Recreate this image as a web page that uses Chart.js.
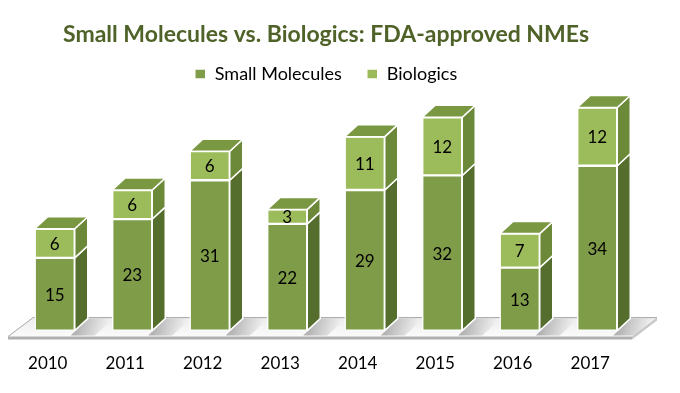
<!DOCTYPE html>
<html>
<head>
<meta charset="utf-8">
<script src="https://cdn.jsdelivr.net/npm/chart.js@4.4.1/dist/chart.umd.min.js"></script>
<style>
  html, body { margin: 0; padding: 0; background: #fff; }
</style>
</head>
<body>
<canvas id="chart" width="680" height="393"></canvas>
<script>
// data
const years = ['2010', '2011', '2012', '2013', '2014', '2015', '2016', '2017'];
const smallMolecules = [15, 23, 31, 22, 29, 32, 13, 34];
const biologics = [6, 6, 6, 3, 11, 12, 7, 12];

// 3D look: depth offset of the side / top faces
const DX = 13, DY = 12;
const faceColors = [
  { side: '#556E2D', top: '#6A8637' },   // small molecules
  { side: '#6B8939', top: '#7A9842' }    // biologics
];

function poly(ctx, pts, fill, stroke) {
  ctx.beginPath();
  ctx.moveTo(pts[0][0], pts[0][1]);
  for (let i = 1; i < pts.length; i++) ctx.lineTo(pts[i][0], pts[i][1]);
  ctx.closePath();
  ctx.fillStyle = fill;
  ctx.fill();
  if (stroke) {
    ctx.strokeStyle = stroke;
    ctx.lineWidth = 1.5;
    ctx.stroke();
  }
}

const bars3d = {
  id: 'bars3d',
  beforeDatasetsDraw(chart) {
    // floor slab under the bars
    const ctx = chart.ctx;
    const area = chart.chartArea;
    const base = chart.scales.y.getPixelForValue(0);
    const l = area.left, r = area.right;
    ctx.save();
    const fl = [[l - 8, base + 6], [r - 4, base + 6], [r + 21, base - 13], [l + 17, base - 13]];
    const g = ctx.createLinearGradient(0, base - 13, 0, base + 6);
    g.addColorStop(0, '#ececec');
    g.addColorStop(1, '#fbfbfb');
    poly(ctx, fl, g, null);
    // soft shadows of the bars on the floor
    const meta = chart.getDatasetMeta(0);
    meta.data.forEach((bar) => {
      const p = bar.getProps(['x', 'width'], true);
      const br = p.x + p.width / 2;
      const sg = ctx.createLinearGradient(br, 0, br + 34, 0);
      sg.addColorStop(0, 'rgba(120,120,120,0.55)');
      sg.addColorStop(1, 'rgba(120,120,120,0)');
      poly(ctx, [[br - 4, base + 5], [br + DX, base - DY], [br + DX + 26, base - DY], [br + 20, base + 5]], sg, null);
    });
    // front edge of the slab
    poly(ctx, [[l - 8, base + 6], [r - 4, base + 6], [r - 4, base + 9], [l - 8, base + 9]], '#b0b0b0', null);
    poly(ctx, [[r - 4, base + 6], [r + 21, base - 13], [r + 21, base - 10], [r - 4, base + 9]], '#c8c8c8', null);
    ctx.strokeStyle = '#a6a6a6';
    ctx.lineWidth = 1;
    ctx.beginPath();
    ctx.moveTo(l - 8, base + 6);
    ctx.lineTo(l + 17, base - 13);
    ctx.lineTo(r + 21, base - 13);
    ctx.stroke();
    ctx.restore();
  },
  afterDatasetsDraw(chart) {
    const ctx = chart.ctx;
    const metas = chart.getSortedVisibleDatasetMetas();
    ctx.save();
    years.forEach((_, i) => {
      let topMost = null;
      metas.forEach((meta) => {
        const bar = meta.data[i];
        const p = bar.getProps(['x', 'y', 'base', 'width'], true);
        const l = p.x - p.width / 2, r = p.x + p.width / 2;
        const t = Math.min(p.y, p.base), b = Math.max(p.y, p.base);
        const c = faceColors[meta.index];
        poly(ctx, [[r, t], [r + DX, t - DY], [r + DX, b - DY], [r, b]], c.side, '#ffffff');
        if (!topMost || t < topMost.t) topMost = { l, r, t, c };
      });
      if (topMost) {
        const { l, r, t, c } = topMost;
        poly(ctx, [[l, t], [l + DX, t - DY], [r + DX, t - DY], [r, t]], c.top, '#ffffff');
      }
    });
    // value labels in the middle of each front face
    ctx.fillStyle = '#000';
    ctx.font = '17px Lato';
    ctx.textAlign = 'center';
    ctx.textBaseline = 'middle';
    metas.forEach((meta) => {
      const values = chart.data.datasets[meta.index].data;
      meta.data.forEach((bar, i) => {
        const p = bar.getProps(['x', 'y', 'base'], true);
        ctx.fillText(String(values[i]), p.x, (p.y + p.base) / 2 + 1);
      });
    });
    ctx.restore();
  }
};

new Chart(document.getElementById('chart'), {
  type: 'bar',
  data: {
    labels: years,
    datasets: [
      {
        label: 'Small Molecules',
        data: smallMolecules,
        backgroundColor: '#7F9C48',
        borderColor: '#ffffff',
        borderWidth: 1.5,
        borderSkipped: false,
        barThickness: 40
      },
      {
        label: 'Biologics',
        data: biologics,
        backgroundColor: '#9CBB5A',
        borderColor: '#ffffff',
        borderWidth: 1.5,
        borderSkipped: false,
        barThickness: 40
      }
    ]
  },
  options: {
    responsive: false,
    animation: false,
    layout: { padding: { left: 16, right: 44, top: 0, bottom: -4 } },
    plugins: {
      title: {
        display: true,
        text: 'Small Molecules vs. Biologics: FDA-approved NMEs',
        color: '#4F6228',
        font: { family: 'Lato', size: 23, weight: 'bold', lineHeight: 0.5 },
        padding: { top: 28.5, bottom: 0 }
      },
      legend: {
        labels: {
          color: '#000',
          font: { family: 'Lato', size: 18 },
          boxWidth: 11,
          boxHeight: 10,
          padding: 25
        }
      },
      tooltip: { enabled: false }
    },
    scales: {
      x: {
        stacked: true,
        grid: { display: false, drawTicks: false },
        border: { display: false },
        ticks: { color: '#000', font: { family: 'Lato', size: 17 }, padding: 23, labelOffset: -7 }
      },
      y: { stacked: true, display: false, min: 0, max: 49 }
    }
  },
  plugins: [bars3d]
});
</script>
</body>
</html>
